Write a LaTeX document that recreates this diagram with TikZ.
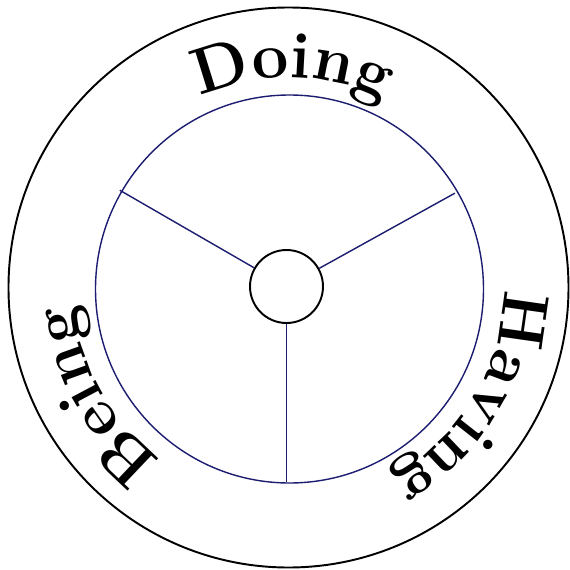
\documentclass[tikz,border=0pt]{standalone}
\usetikzlibrary{decorations.text}
\definecolor{wheelnavy}{RGB}{28,28,112}
\tikzset{
  outerring/.style={draw=black, line width=1.1pt},
  innerring/.style={draw=wheelnavy, line width=0.8pt},
  hubring/.style={draw=black, line width=1.1pt},
  spoke/.style={draw=wheelnavy, line width=0.8pt},
  arclabel/.style={decorate, decoration={text along path, text align=center}}
}
\newcommand{\lblfont}{\bfseries\fontsize{37}{42}\selectfont}
\begin{document}
\begin{tikzpicture}
\useasboundingbox (-5.7,-5.7) rectangle (5.7,5.7);
\coordinate (oc) at (0.07,-0.05);
\coordinate (ic) at (0.09,-0.08);
\coordinate (hc) at (0.03,-0.03);
\draw[outerring] (oc) circle[radius=5.6];
\draw[innerring] (ic) circle[radius=3.88];
\node[circle, hubring, minimum size=1.46cm, inner sep=0pt] (hub) at (hc) {};
\path (hc) ++(150:3.85) coordinate (eul);
\path (hc) ++(29:3.85) coordinate (eur);
\path (hc) ++(270:3.90) coordinate (ebt);
\draw[spoke] (hub.150) -- (eul);
\draw[spoke] (hub.29) -- (eur);
\draw[spoke] (hub.270) -- (ebt);
\path[arclabel, decoration={text={|\lblfont|Doing}}]
  (oc) ++(129:4.2) arc[start angle=129, end angle=49, radius=4.2];
\path[arclabel, decoration={text={|\lblfont|Having}}]
  (oc) ++(10:4.3) arc[start angle=10, end angle=-72, radius=4.3];
\path[arclabel, decoration={text={|\lblfont|Being}}]
  (oc) ++(249:4.28) arc[start angle=249, end angle=169, radius=4.28];
\end{tikzpicture}
\end{document}
